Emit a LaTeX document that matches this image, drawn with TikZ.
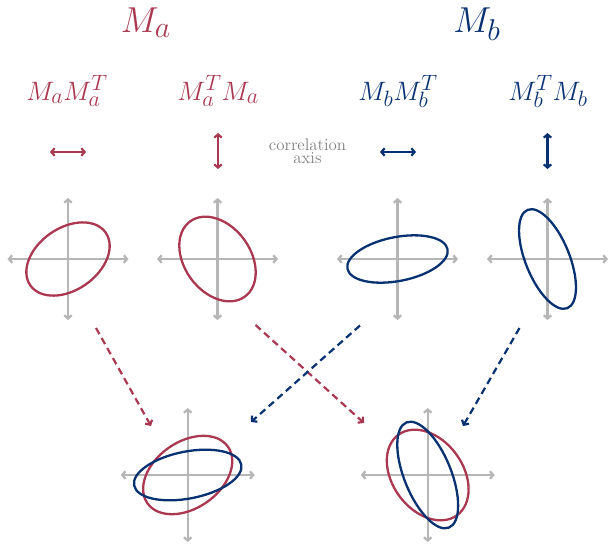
\documentclass[tikz,border=0pt]{standalone}
\usetikzlibrary{arrows.meta}
\definecolor{cred}{RGB}{170,56,80}
\definecolor{cblue}{RGB}{8,49,114}
\definecolor{caxis}{RGB}{182,182,182}
\definecolor{ctext}{RGB}{128,128,128}
\begin{document}
\begin{tikzpicture}[x=1pt,y=-1pt,
  tip/.style={{Straight Barb[length=3.2pt,width=7.5pt]}-{Straight Barb[length=3.2pt,width=7.5pt]}},
  axisline/.style={draw=caxis,line width=2.3pt,tip},
  ell/.style={line width=2.3pt},
  legarrow/.style={line width=2.2pt,tip},
  flow/.style={line width=2.2pt,dash pattern=on 7pt off 4.5pt,-{Straight Barb[length=3.5pt,width=8pt]}},
  title/.style={font=\fontsize{24.88}{30}\selectfont,scale=1.45,transform shape,anchor=base},
  lab/.style={font=\fontsize{24.88}{30}\selectfont,scale=1.07,transform shape,anchor=base},
]
\useasboundingbox (0,0) rectangle (609,544);
% titles
\node[title,text=cred] (ta) at (146,32) {$M_a$};
\node[title,text=cblue] (tb) at (477,32) {$M_b$};
% labels
\node[lab,text=cred] (l1) at (67,100) {$M_aM_a^T$};
\node[lab,text=cred] (l2) at (218,100) {$M_a^TM_a$};
\node[lab,text=cblue] (l3) at (398,100) {$M_bM_b^T$};
\node[lab,text=cblue] (l4) at (548,100) {$M_b^TM_b$};
\node[text=ctext,align=center,font=\fontsize{14.4}{11.5}\selectfont,scale=1.17,transform shape,inner sep=0pt] (corr) at (307.5,151) {correlation\\axis};
% legend arrows
\coordinate (a1l) at (50,152); \coordinate (a1r) at (86,152);
\coordinate (a2t) at (218,133); \coordinate (a2b) at (218,169);
\coordinate (a3l) at (380,152); \coordinate (a3r) at (416,152);
\coordinate (a4t) at (547.5,133); \coordinate (a4b) at (547.5,169);
\draw[legarrow,cred] (a1l) -- (a1r);
\draw[legarrow,cred] (a2t) -- (a2b);
\draw[legarrow,cblue] (a3l) -- (a3r);
\draw[legarrow,cblue] (a4t) -- (a4b);
% top crosses
\foreach \n/\cx in {c1/68,c2/217.5,c3/397.5,c4/547.5}{
  \coordinate (\n) at (\cx,259);
  \draw[axisline] ([xshift=-60.5pt]\n) -- ([xshift=60.5pt]\n);
  \draw[axisline] ([yshift=61pt]\n) -- ([yshift=-61pt]\n);
}
\draw[ell,cred,rotate around={35:(c1)}] (c1) ellipse (46 and 31);
\draw[ell,cred,rotate around={-54:(c2)}] (c2) ellipse (46.5 and 33);
\draw[ell,cblue,rotate around={11:(c3)}] (c3) ellipse (51 and 22);
\draw[ell,cblue,rotate around={-68:(c4)}] (c4) ellipse (53 and 22);
% bottom crosses
\foreach \n/\cx in {d1/187.7,d2/427.7}{
  \coordinate (\n) at (\cx,475);
  \draw[axisline] ([xshift=-67pt]\n) -- ([xshift=67pt]\n);
  \draw[axisline] ([yshift=67pt]\n) -- ([yshift=-67pt]\n);
}
\draw[ell,cred,rotate around={35:(d1)}] (d1) ellipse (49.2 and 33.2);
\draw[ell,cblue,rotate around={11:(d1)}] (d1) ellipse (54.6 and 23.5);
\draw[ell,cred,rotate around={-54:(d2)}] (d2) ellipse (49.8 and 35.3);
\draw[ell,cblue,rotate around={-68:(d2)}] (d2) ellipse (56.7 and 23.5);
% flow arrows
\coordinate (s1) at (96,328); \coordinate (e1) at (151,426);
\coordinate (s2) at (255.5,325); \coordinate (e2) at (364,423);
\coordinate (s3) at (360,325.5); \coordinate (e3) at (251,422);
\coordinate (s4) at (519.5,328); \coordinate (e4) at (463,426);
\draw[flow,cred] (s1) -- (e1);
\draw[flow,cred] (s2) -- (e2);
\draw[flow,cblue] (s3) -- (e3);
\draw[flow,cblue] (s4) -- (e4);
\end{tikzpicture}
\end{document}
